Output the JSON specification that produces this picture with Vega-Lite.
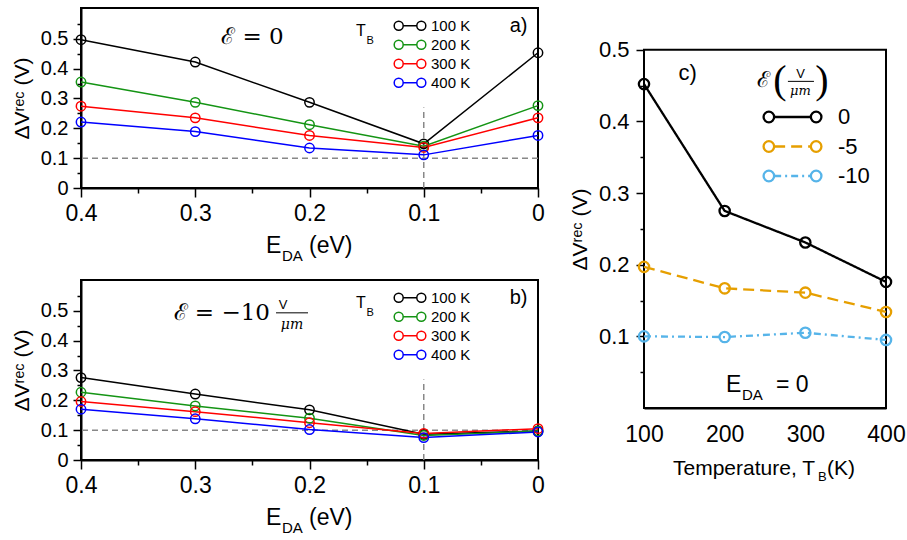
{
  "$schema": "https://vega.github.io/schema/vega-lite/v6.json",
  "background": "white",
  "padding": {"left": 10, "top": 7, "right": 0, "bottom": 0},
  "config": {
    "font": "Liberation Sans",
    "view": {"stroke": "black", "strokeWidth": 2},
    "axis": {
      "domainColor": "black", "domainWidth": 2, "tickColor": "black", "tickWidth": 1.5,
      "labelColor": "black", "titleColor": "black", "grid": false,
      "labelFont": "Liberation Sans", "titleFont": "Liberation Sans, DejaVu Sans",
      "titleFontWeight": "normal", "labelOverlap": false, "labelFlush": false
    },
    "legend": {"labelFont": "Liberation Sans", "labelColor": "black", "symbolFillColor": "transparent"},
    "text": {"color": "black", "font": "Liberation Sans"}
  },
  "datasets": {
    "ab": [
      {"panel": "a", "T": "100 K", "EDA": 0.4, "dv": 0.497},
      {"panel": "a", "T": "100 K", "EDA": 0.3, "dv": 0.422},
      {"panel": "a", "T": "100 K", "EDA": 0.2, "dv": 0.287},
      {"panel": "a", "T": "100 K", "EDA": 0.1, "dv": 0.148},
      {"panel": "a", "T": "100 K", "EDA": 0.0, "dv": 0.453},
      {"panel": "a", "T": "200 K", "EDA": 0.4, "dv": 0.355},
      {"panel": "a", "T": "200 K", "EDA": 0.3, "dv": 0.287},
      {"panel": "a", "T": "200 K", "EDA": 0.2, "dv": 0.212},
      {"panel": "a", "T": "200 K", "EDA": 0.1, "dv": 0.140},
      {"panel": "a", "T": "200 K", "EDA": 0.0, "dv": 0.276},
      {"panel": "a", "T": "300 K", "EDA": 0.4, "dv": 0.274},
      {"panel": "a", "T": "300 K", "EDA": 0.3, "dv": 0.235},
      {"panel": "a", "T": "300 K", "EDA": 0.2, "dv": 0.176},
      {"panel": "a", "T": "300 K", "EDA": 0.1, "dv": 0.136},
      {"panel": "a", "T": "300 K", "EDA": 0.0, "dv": 0.235},
      {"panel": "a", "T": "400 K", "EDA": 0.4, "dv": 0.221},
      {"panel": "a", "T": "400 K", "EDA": 0.3, "dv": 0.189},
      {"panel": "a", "T": "400 K", "EDA": 0.2, "dv": 0.134},
      {"panel": "a", "T": "400 K", "EDA": 0.1, "dv": 0.111},
      {"panel": "a", "T": "400 K", "EDA": 0.0, "dv": 0.176},
      {"panel": "b", "T": "100 K", "EDA": 0.4, "dv": 0.276},
      {"panel": "b", "T": "100 K", "EDA": 0.3, "dv": 0.221},
      {"panel": "b", "T": "100 K", "EDA": 0.2, "dv": 0.168},
      {"panel": "b", "T": "100 K", "EDA": 0.1, "dv": 0.086},
      {"panel": "b", "T": "100 K", "EDA": 0.0, "dv": 0.097},
      {"panel": "b", "T": "200 K", "EDA": 0.4, "dv": 0.227},
      {"panel": "b", "T": "200 K", "EDA": 0.3, "dv": 0.181},
      {"panel": "b", "T": "200 K", "EDA": 0.2, "dv": 0.140},
      {"panel": "b", "T": "200 K", "EDA": 0.1, "dv": 0.082},
      {"panel": "b", "T": "200 K", "EDA": 0.0, "dv": 0.097},
      {"panel": "b", "T": "300 K", "EDA": 0.4, "dv": 0.196},
      {"panel": "b", "T": "300 K", "EDA": 0.3, "dv": 0.162},
      {"panel": "b", "T": "300 K", "EDA": 0.2, "dv": 0.125},
      {"panel": "b", "T": "300 K", "EDA": 0.1, "dv": 0.089},
      {"panel": "b", "T": "300 K", "EDA": 0.0, "dv": 0.105},
      {"panel": "b", "T": "400 K", "EDA": 0.4, "dv": 0.170},
      {"panel": "b", "T": "400 K", "EDA": 0.3, "dv": 0.138},
      {"panel": "b", "T": "400 K", "EDA": 0.2, "dv": 0.102},
      {"panel": "b", "T": "400 K", "EDA": 0.1, "dv": 0.075},
      {"panel": "b", "T": "400 K", "EDA": 0.0, "dv": 0.094}
    ],
    "c": [
      {"eps": 0, "TB": 100, "dv": 0.452},
      {"eps": 0, "TB": 200, "dv": 0.275},
      {"eps": 0, "TB": 300, "dv": 0.231},
      {"eps": 0, "TB": 400, "dv": 0.176},
      {"eps": -5, "TB": 100, "dv": 0.197},
      {"eps": -5, "TB": 200, "dv": 0.167},
      {"eps": -5, "TB": 300, "dv": 0.161},
      {"eps": -5, "TB": 400, "dv": 0.134},
      {"eps": -10, "TB": 100, "dv": 0.100},
      {"eps": -10, "TB": 200, "dv": 0.099},
      {"eps": -10, "TB": 300, "dv": 0.105},
      {"eps": -10, "TB": 400, "dv": 0.095}
    ]
  },
  "columns": 2,
  "align": "none",
  "spacing": 22,
  "resolve": {
    "scale": {"color": "independent", "stroke": "independent", "strokeDash": "independent"},
    "legend": {"color": "independent", "stroke": "independent", "strokeDash": "independent"}
  },
  "concat": [
    {
      "spacing": 92,
      "bounds": "flush",
      "resolve": {"scale": {"color": "independent"}, "legend": {"color": "independent"}},
      "vconcat": [
        {
          "width": 457,
          "height": 180,
          "data": {"values": [{}]},
          "resolve": {"axis": {"y": "independent"}},
          "layer": [
            {"mark": {"type": "rule", "color": "#888888", "strokeDash": [6, 4], "strokeWidth": 1.5},
              "encoding": {"y": {"datum": 0.1, "axis": {"orient": "left", "values": [0.05, 0.15, 0.25, 0.35, 0.45, 0.55], "labels": false, "domain": false, "tickSize": 4, "title": null}}}},
            {"mark": {"type": "rule", "color": "#888888", "strokeDash": [6, 4], "strokeWidth": 1.5}, "encoding": {"x": {"datum": 0.1}, "y": {"datum": 0, "axis": null}, "y2": {"datum": 0.27}}},
            {
              "data": {"name": "ab"},
              "transform": [{"filter": "datum.panel === 'a'"}],
              "mark": {"type": "line", "strokeWidth": 1.5},
              "encoding": {
                "x": {"field": "EDA", "type": "quantitative", "scale": {"domain": [0, 0.4], "reverse": true, "nice": false, "zero": false},
                  "axis": {"values": [0, 0.05, 0.1, 0.15, 0.2, 0.25, 0.3, 0.35, 0.4], "labelOverlap": false, "labelExpr": "abs(datum.value*10-round(datum.value*10))<0.001 ? format(datum.value,'~g') : ''", "tickSize": {"condition": {"test": "abs(datum.value*10-round(datum.value*10))<0.001", "value": 9}, "value": 5}, "labelFontSize": 23, "labelPadding": 5, "title": null}},
                "y": {"field": "dv", "type": "quantitative", "scale": {"domain": [0, 0.603], "nice": false},
                  "axis": {"orient": "left", "values": [0, 0.1, 0.2, 0.3, 0.4, 0.5], "format": "~g", "labelFontSize": 20, "tickSize": 8, "labelPadding": 5, "title": "ΔVʳᵉᶜ (V)", "titleFontSize": 21, "titlePadding": 8}},
                "color": {"field": "T", "type": "nominal", "scale": {"domain": ["100 K", "200 K", "300 K", "400 K"], "range": ["#000000", "#149414", "#ff0000", "#0000ff"]}}
              }
            },
            {
              "data": {"name": "ab"},
              "transform": [{"filter": "datum.panel === 'a'"}],
              "mark": {"type": "point", "filled": false, "size": 88, "strokeWidth": 1.5, "opacity": 1},
              "encoding": {
                "x": {"field": "EDA", "type": "quantitative"},
                "y": {"field": "dv", "type": "quantitative", "axis": null},
                "color": {"field": "T", "type": "nominal",
                  "legend": {"orient": "none", "legendX": 319, "legendY": 7.7, "title": null, "padding": 0,
                    "symbolType": "M-1.756,0a0.5,0.5 0 1,0 1,0a0.5,0.5 0 1,0 -1,0M-0.756,0L0.756,0M0.756,0a0.5,0.5 0 1,0 1,0a0.5,0.5 0 1,0 -1,0",
                    "symbolSize": 324, "symbolStrokeWidth": 1.5, "labelFontSize": 15, "labelOffset": 11, "rowPadding": 1}}
              }
            },
            {"mark": {"type": "text", "text": "ℰ = 0", "font": "DejaVu Serif", "fontSize": 23, "align": "center", "baseline": "middle"}, "encoding": {"x": {"datum": 0.25}, "y": {"datum": 0.506, "axis": null}}},
            {"mark": {"type": "text", "text": "a)", "fontSize": 20, "align": "center", "baseline": "middle"}, "encoding": {"x": {"datum": 0.017}, "y": {"datum": 0.543, "axis": null}}},
            {"mark": {"type": "text", "text": "T", "fontSize": 16, "align": "center", "baseline": "middle"}, "encoding": {"x": {"datum": 0.155}, "y": {"datum": 0.527, "axis": null}}},
            {"mark": {"type": "text", "text": "B", "fontSize": 11, "align": "center", "baseline": "middle"}, "encoding": {"x": {"datum": 0.147}, "y": {"datum": 0.492, "axis": null}}},
            {"mark": {"type": "text", "text": "E", "fontSize": 23, "align": "left", "baseline": "alphabetic", "dx": -43.5, "dy": 65}, "encoding": {"x": {"datum": 0.2}, "y": {"datum": 0, "axis": null}}},
            {"mark": {"type": "text", "text": "DA", "fontSize": 15, "align": "left", "baseline": "alphabetic", "dx": -27.5, "dy": 73}, "encoding": {"x": {"datum": 0.2}, "y": {"datum": 0, "axis": null}}},
            {"mark": {"type": "text", "text": "(eV)", "fontSize": 23, "align": "left", "baseline": "alphabetic", "dx": -0.5, "dy": 65}, "encoding": {"x": {"datum": 0.2}, "y": {"datum": 0, "axis": null}}}
          ]
        },
        {
          "width": 457,
          "height": 180,
          "data": {"values": [{}]},
          "resolve": {"axis": {"y": "independent"}},
          "layer": [
            {"mark": {"type": "rule", "color": "#888888", "strokeDash": [6, 4], "strokeWidth": 1.5},
              "encoding": {"y": {"datum": 0.1, "axis": {"orient": "left", "values": [0.05, 0.15, 0.25, 0.35, 0.45, 0.55], "labels": false, "domain": false, "tickSize": 4, "title": null}}}},
            {"mark": {"type": "rule", "color": "#888888", "strokeDash": [6, 4], "strokeWidth": 1.5}, "encoding": {"x": {"datum": 0.1}, "y": {"datum": 0, "axis": null}, "y2": {"datum": 0.27}}},
            {
              "data": {"name": "ab"},
              "transform": [{"filter": "datum.panel === 'b'"}],
              "mark": {"type": "line", "strokeWidth": 1.5},
              "encoding": {
                "x": {"field": "EDA", "type": "quantitative", "scale": {"domain": [0, 0.4], "reverse": true, "nice": false, "zero": false},
                  "axis": {"values": [0, 0.05, 0.1, 0.15, 0.2, 0.25, 0.3, 0.35, 0.4], "labelOverlap": false, "labelExpr": "abs(datum.value*10-round(datum.value*10))<0.001 ? format(datum.value,'~g') : ''", "tickSize": {"condition": {"test": "abs(datum.value*10-round(datum.value*10))<0.001", "value": 9}, "value": 5}, "labelFontSize": 23, "labelPadding": 5, "title": null}},
                "y": {"field": "dv", "type": "quantitative", "scale": {"domain": [0, 0.603], "nice": false},
                  "axis": {"orient": "left", "values": [0, 0.1, 0.2, 0.3, 0.4, 0.5], "format": "~g", "labelFontSize": 20, "tickSize": 8, "labelPadding": 5, "title": "ΔVʳᵉᶜ (V)", "titleFontSize": 21, "titlePadding": 8}},
                "color": {"field": "T", "type": "nominal", "scale": {"domain": ["100 K", "200 K", "300 K", "400 K"], "range": ["#000000", "#149414", "#ff0000", "#0000ff"]}}
              }
            },
            {
              "data": {"name": "ab"},
              "transform": [{"filter": "datum.panel === 'b'"}],
              "mark": {"type": "point", "filled": false, "size": 88, "strokeWidth": 1.5, "opacity": 1},
              "encoding": {
                "x": {"field": "EDA", "type": "quantitative"},
                "y": {"field": "dv", "type": "quantitative", "axis": null},
                "color": {"field": "T", "type": "nominal",
                  "legend": {"orient": "none", "legendX": 319, "legendY": 7.7, "title": null, "padding": 0,
                    "symbolType": "M-1.756,0a0.5,0.5 0 1,0 1,0a0.5,0.5 0 1,0 -1,0M-0.756,0L0.756,0M0.756,0a0.5,0.5 0 1,0 1,0a0.5,0.5 0 1,0 -1,0",
                    "symbolSize": 324, "symbolStrokeWidth": 1.5, "labelFontSize": 15, "labelOffset": 11, "rowPadding": 1}}
              }
            },
            {"mark": {"type": "text", "text": "ℰ = −10", "font": "DejaVu Serif", "fontSize": 23, "align": "left", "baseline": "middle"}, "encoding": {"x": {"datum": 0.319}, "y": {"datum": 0.493, "axis": null}}},
            {"mark": {"type": "text", "text": "V", "fontSize": 13, "align": "center", "baseline": "middle"}, "encoding": {"x": {"datum": 0.2232}, "y": {"datum": 0.52, "axis": null}}},
            {"mark": {"type": "rule", "color": "black", "strokeWidth": 1}, "encoding": {"x": {"datum": 0.2293}, "x2": {"datum": 0.2013}, "y": {"datum": 0.493, "axis": null}}},
            {"mark": {"type": "text", "text": "μm", "font": "DejaVu Serif", "fontStyle": "italic", "fontSize": 14, "align": "center", "baseline": "middle"}, "encoding": {"x": {"datum": 0.2153}, "y": {"datum": 0.453, "axis": null}}},
            {"mark": {"type": "text", "text": "b)", "fontSize": 20, "align": "center", "baseline": "middle"}, "encoding": {"x": {"datum": 0.017}, "y": {"datum": 0.543, "axis": null}}},
            {"mark": {"type": "text", "text": "T", "fontSize": 16, "align": "center", "baseline": "middle"}, "encoding": {"x": {"datum": 0.155}, "y": {"datum": 0.527, "axis": null}}},
            {"mark": {"type": "text", "text": "B", "fontSize": 11, "align": "center", "baseline": "middle"}, "encoding": {"x": {"datum": 0.147}, "y": {"datum": 0.492, "axis": null}}},
            {"mark": {"type": "text", "text": "E", "fontSize": 23, "align": "left", "baseline": "alphabetic", "dx": -43.5, "dy": 65}, "encoding": {"x": {"datum": 0.2}, "y": {"datum": 0, "axis": null}}},
            {"mark": {"type": "text", "text": "DA", "fontSize": 15, "align": "left", "baseline": "alphabetic", "dx": -27.5, "dy": 73}, "encoding": {"x": {"datum": 0.2}, "y": {"datum": 0, "axis": null}}},
            {"mark": {"type": "text", "text": "(eV)", "fontSize": 23, "align": "left", "baseline": "alphabetic", "dx": -0.5, "dy": 65}, "encoding": {"x": {"datum": 0.2}, "y": {"datum": 0, "axis": null}}}
          ]
        }
      ]
    },
    {
      "width": 242,
      "height": 400,
      "view": {"stroke": null},
      "data": {"values": [{}]},
      "layer": [
        {"mark": {"type": "rect", "filled": false, "color": "black", "strokeWidth": 2}, "encoding": {"x": {"datum": 100}, "x2": {"datum": 400}, "y": {"datum": 0}, "y2": {"datum": 0.5}}},
        {
          "data": {"name": "c"},
          "mark": {"type": "line", "strokeWidth": 2.3},
          "encoding": {
            "x": {"field": "TB", "type": "quantitative", "scale": {"domain": [100, 400], "nice": false, "zero": false},
              "axis": {"values": [100, 200, 300, 400], "ticks": false, "tickSize": 0, "labelOverlap": false, "labelFontSize": 23, "labelPadding": 15, "title": null}},
            "y": {"field": "dv", "type": "quantitative", "scale": {"domain": [0, 0.5], "nice": false, "range": [400, 41.7]},
              "axis": {"values": [0.05, 0.1, 0.15, 0.2, 0.25, 0.3, 0.35, 0.4, 0.45, 0.5], "domain": false, "labelOverlap": false, "labelExpr": "abs(datum.value*10-round(datum.value*10))<0.001 ? format(datum.value,'~g') : ''", "labelFontSize": {"condition": {"test": "abs(datum.value*10-round(datum.value*10))<0.001", "value": 22}, "value": 0}, "tickSize": {"condition": {"test": "abs(datum.value*10-round(datum.value*10))<0.001", "value": 8}, "value": 4}, "labelPadding": 7, "title": "ΔVʳᵉᶜ (V)", "titleFontSize": 21, "titlePadding": 8, "titleY": 221}},
            "color": {"field": "eps", "type": "ordinal", "sort": "descending", "scale": {"range": ["#000000", "#e69f00", "#56b4e9"]},
              "legend": {"orient": "none", "legendX": 135, "legendY": 95.5, "title": null, "padding": 0, "symbolType": "M-1.53,0L1.53,0", "symbolSize": 576, "symbolStrokeWidth": 2.3, "labelFontSize": 22, "labelOffset": 32, "labelOpacity": 0, "rowPadding": 4.5}},
            "strokeDash": {"field": "eps", "type": "ordinal", "sort": "descending", "scale": {"range": [[1, 0], [11, 6], [7, 4, 2, 4]]},
              "legend": {"orient": "none", "legendX": 135, "legendY": 95.5, "title": null, "padding": 0, "symbolType": "M-1.53,0L1.53,0", "symbolSize": 576, "symbolStrokeWidth": 2.3, "labelFontSize": 22, "labelOffset": 32, "labelOpacity": 0, "rowPadding": 4.5}}
          }
        },
        {
          "data": {"name": "c"},
          "mark": {"type": "point", "filled": false, "size": 106, "strokeWidth": 2.3, "opacity": 1},
          "encoding": {
            "x": {"field": "TB", "type": "quantitative"},
            "y": {"field": "dv", "type": "quantitative"},
            "stroke": {"field": "eps", "type": "ordinal", "scale": {"domain": [0, -5, -10], "range": ["#000000", "#e69f00", "#56b4e9"]},
              "legend": {"orient": "none", "legendX": 135, "legendY": 95.5, "title": null, "padding": 0,
                "symbolType": "M-2.41,0a0.44,0.44 0 1,0 0.88,0a0.44,0.44 0 1,0 -0.88,0M1.53,0a0.44,0.44 0 1,0 0.88,0a0.44,0.44 0 1,0 -0.88,0",
                "symbolSize": 576, "symbolStrokeWidth": 2.3, "labelFontSize": 22, "labelOffset": 32, "rowPadding": 4.5}}
          }
        },
        {"mark": {"type": "text", "text": "c)", "fontSize": 22, "align": "center", "baseline": "middle"}, "encoding": {"x": {"datum": 154}, "y": {"datum": 0.468}}},
        {"mark": {"type": "text", "text": "ℰ", "font": "DejaVu Serif", "fontSize": 22, "align": "center", "baseline": "middle", "dx": -2, "dy": 30}, "encoding": {"x": {"datum": 250}, "y": {"datum": 0.5}}},
        {"mark": {"type": "text", "text": "(", "font": "Liberation Serif", "fontSize": 40, "align": "center", "baseline": "middle", "dx": 15, "dy": 31}, "encoding": {"x": {"datum": 250}, "y": {"datum": 0.5}}},
        {"mark": {"type": "text", "text": ")", "font": "Liberation Serif", "fontSize": 40, "align": "center", "baseline": "middle", "dx": 57, "dy": 31}, "encoding": {"x": {"datum": 250}, "y": {"datum": 0.5}}},
        {"mark": {"type": "text", "text": "V", "fontSize": 13, "align": "center", "baseline": "middle", "dx": 35.5, "dy": 24}, "encoding": {"x": {"datum": 250}, "y": {"datum": 0.5}}},
        {"mark": {"type": "rule", "color": "black", "strokeWidth": 1}, "encoding": {"x": {"datum": 278.4}, "x2": {"datum": 310.7}, "y": {"datum": 0.4558}}},
        {"mark": {"type": "text", "text": "μm", "font": "DejaVu Serif", "fontStyle": "italic", "fontSize": 13, "align": "center", "baseline": "middle", "dx": 35.5, "dy": 41}, "encoding": {"x": {"datum": 250}, "y": {"datum": 0.5}}},
        {"mark": {"type": "text", "text": "E", "fontSize": 23, "align": "left", "baseline": "alphabetic", "dx": -39, "dy": -16}, "encoding": {"x": {"datum": 250}, "y": {"datum": 0}}},
        {"mark": {"type": "text", "text": "DA", "fontSize": 15, "align": "left", "baseline": "alphabetic", "dx": -23, "dy": -8}, "encoding": {"x": {"datum": 250}, "y": {"datum": 0}}},
        {"mark": {"type": "text", "text": "= 0", "fontSize": 23, "align": "left", "baseline": "alphabetic", "dx": 11, "dy": -16}, "encoding": {"x": {"datum": 250}, "y": {"datum": 0}}},
        {"mark": {"type": "text", "text": "Temperature, T", "fontSize": 21, "align": "left", "baseline": "alphabetic", "dx": -92, "dy": 67}, "encoding": {"x": {"datum": 250}, "y": {"datum": 0}}},
        {"mark": {"type": "text", "text": "B", "fontSize": 13, "align": "left", "baseline": "alphabetic", "dx": 53, "dy": 73}, "encoding": {"x": {"datum": 250}, "y": {"datum": 0}}},
        {"mark": {"type": "text", "text": "(K)", "fontSize": 21, "align": "left", "baseline": "alphabetic", "dx": 62, "dy": 67}, "encoding": {"x": {"datum": 250}, "y": {"datum": 0}}}
      ]
    }
  ]
}
